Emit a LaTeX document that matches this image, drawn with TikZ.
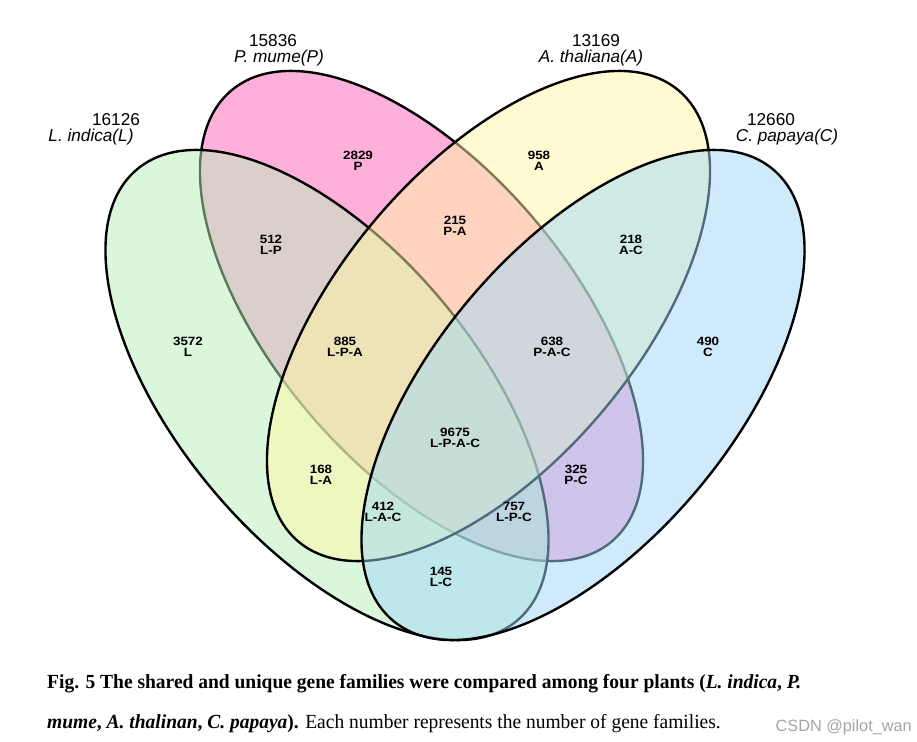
\documentclass[tikz,border=0pt]{standalone}
\usepackage{fontspec}
\setmainfont{Liberation Sans}
\newfontfamily\capfont{Liberation Serif}
\newfontfamily\labfont[FakeStretch=1.12]{Liberation Sans}
\definecolor{Lc}{RGB}{185,241,185}
\definecolor{Pc}{RGB}{255,98,182}
\definecolor{Ac}{RGB}{255,247,167}
\definecolor{Cc}{RGB}{161,217,249}
\definecolor{wm}{RGB}{165,165,165}
\begin{document}
\begin{tikzpicture}[x=1pt,y=-1pt,
  venn/.style={draw=black, line width=2.4pt, fill opacity=0.5, draw opacity=1},
  rl/.style={font=\labfont\fontsize{12}{11}\selectfont\bfseries, align=center, inner sep=0pt},
  tl/.style={font=\fontsize{17.2}{17.2}\selectfont, anchor=base, inner sep=0pt},
  captext/.style={font=\capfont\fontsize{20}{20}\selectfont, anchor=base west, inner sep=0pt}]
\useasboundingbox (0,0) rectangle (917,741);
\fill[white] (0,0) rectangle (917,741);
% ellipses, drawn P, L, A, C
\path[venn, fill=Pc, rotate around={-49.86:(421.5,316)}] (421.5,316) ellipse [x radius=295, y radius=148.6];
\path[venn, fill=Lc, rotate around={-49.86:(327,395)}] (327,395) ellipse [x radius=295, y radius=148.6];
\path[venn, fill=Ac, rotate around={49.86:(488.5,316)}] (488.5,316) ellipse [x radius=295, y radius=148.6];
\path[venn, fill=Cc, rotate around={49.86:(583,395)}] (583,395) ellipse [x radius=295, y radius=148.6];
% titles
\node[tl] (tLn) at (116,125.5) {16126};
\node[tl] (tLt) at (91,141.7) {\itshape L. indica(L)};
\node[tl] (tPn) at (273,46.8) {15836};
\node[tl] (tPt) at (279,62.7) {\itshape P. mume(P)};
\node[tl] (tAn) at (596,46.8) {13169};
\node[tl] (tAt) at (591,62.7) {\itshape A. thaliana(A)};
\node[tl] (tCn) at (771,125.5) {12660};
\node[tl] (tCt) at (787,141.7) {\itshape C. papaya(C)};
% region labels
\node[rl] (r1) at (188,346.5) {3572\\L};
\node[rl] (r2) at (358,160.5) {2829\\P};
\node[rl] (r3) at (539,160.5) {958\\A};
\node[rl] (r4) at (708,346.5) {490\\C};
\node[rl] (r5) at (271,244.5) {512\\L-P};
\node[rl] (r6) at (455,226) {215\\P-A};
\node[rl] (r7) at (631,244.5) {218\\A-C};
\node[rl] (r8) at (345,346.5) {885\\L-P-A};
\node[rl] (r9) at (552,346.5) {638\\P-A-C};
\node[rl] (r10) at (455,437.5) {9675\\L-P-A-C};
\node[rl] (r11) at (321,474.5) {168\\L-A};
\node[rl] (r12) at (576,474.5) {325\\P-C};
\node[rl] (r13) at (383,511.5) {412\\L-A-C};
\node[rl] (r14) at (514,511.5) {757\\L-P-C};
\node[rl] (r15) at (441,576.5) {145\\L-C};
% caption
\node[captext] (c1) at (47,688) {\scalebox{0.974}[1]{\bfseries Fig. 5 The shared and unique gene families were compared among four plants (\textit{L. indica}, \textit{P.}}};
\node[captext] (c2) at (47,728) {\scalebox{0.974}[1]{{\bfseries\itshape mume}\textbf{, }{\bfseries\itshape A. thalinan}\textbf{, }{\bfseries\itshape C. papaya}\textbf{).} Each number represents the number of gene families.}};
\node[anchor=base east, inner sep=0pt, text=wm, font=\fontsize{16.3}{16.3}\selectfont] (wmk) at (912,731) {CSDN @pilot\_wan};
\end{tikzpicture}
\end{document}
